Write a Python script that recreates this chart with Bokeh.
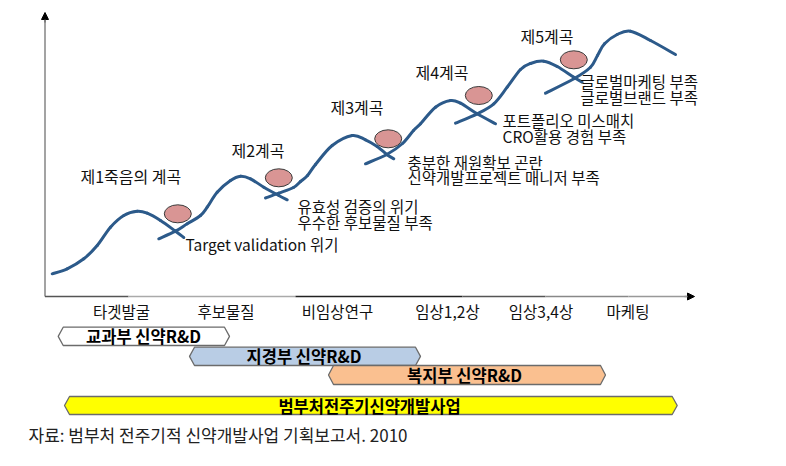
from bokeh.plotting import figure
from bokeh.models import Range1d, Arrow, NormalHead
from bokeh.core.properties import value
from bokeh.embed import file_html
from bokeh.resources import INLINE

FONT = "Noto Sans CJK KR"

# ---- curve (valleys of death) ----
wave1_x = [51.7, 66.7, 83.3, 96.7, 110, 123.3, 136.7, 146.7, 160, 175, 183.3]
wave1_y = [273.3, 268.3, 258.3, 245, 226.7, 215, 210.7, 212.7, 220, 230.7, 237]
wave2_x = [158.3, 175, 186.7, 200, 206.7, 216.7, 230, 240, 250, 263.3, 278.3, 286.7]
wave2_y = [238.3, 230.7, 223.3, 215, 206.7, 191.7, 180, 175.7, 178.3, 186.7, 195, 199.3]
wave3_x = [265, 278.3, 293, 300, 307, 315, 331.7, 351.7, 365, 376.7, 386.7, 393.3]
wave3_y = [197.5, 192.7, 187, 181, 175, 164, 145, 135, 139.3, 146, 154.3, 158.3]
wave4_x = [365, 386.7, 402, 413, 420, 435, 450, 460, 476.7, 495]
wave4_y = [163.3, 153.8, 143, 130, 123.3, 106.7, 100, 102.7, 113.3, 123.3]
wave5_x = [455, 476.7, 493.3, 506.7, 520, 530, 543.3, 556.7, 573.3, 581.7]
wave5_y = [122.7, 113.3, 103.3, 86.7, 69, 63, 60.7, 66, 76.7, 81.7]
wave6_x = [545, 573.3, 590, 597, 604, 616.7, 630, 650, 675]
wave6_y = [92.7, 78.3, 66.7, 55, 43.3, 34, 30.7, 40, 54]
waves = [(wave1_x, wave1_y), (wave2_x, wave2_y), (wave3_x, wave3_y),
         (wave4_x, wave4_y), (wave5_x, wave5_y), (wave6_x, wave6_y)]

# balls at each valley
ball_x = [177.3, 278.3, 387.7, 478.3, 573.3]
ball_y = [213.3, 177.3, 138.3, 95, 59.3]

# valley titles
valley_labels = ["제1죽음의 계곡", "제2계곡", "제3계곡", "제4계곡", "제5계곡"]
valley_x = [80, 231, 330, 415, 520]
valley_y = [175, 149, 106, 71, 35]

# crisis notes
note_labels = ["Target validation 위기",
               "유효성 검증의 위기", "우수한 후보물질 부족",
               "충분한 재원확보 곤란", "신약개발프로젝트 매니저 부족",
               "포트폴리오 미스매치", "CRO활용 경험 부족",
               "글로벌마케팅 부족", "글로벌브랜드 부족"]
note_x = [185, 297, 297, 407, 407, 502, 502, 580, 580]
note_y = [243.5, 205.5, 221, 161, 176.5, 119, 135, 80, 96]

# stages on the x axis
stage_labels = ["타겟발굴", "후보물질", "비임상연구", "임상1,2상", "임상3,4상", "마케팅"]
stage_x = [121, 225.5, 337, 447, 540.5, 627.5]
stage_y = 310

# programme bars (double-headed arrows)
bar_labels = ["교과부 신약R&D", "지경부 신약R&D", "복지부 신약R&D", "범부처전주기신약개발사업"]
bar_start = [57.7, 189, 328, 64]
bar_end = [229, 420, 605, 676.7]
bar_top = [326.7, 346.7, 365, 396]
bar_bottom = [345, 365, 384, 414]
bar_colors = ["#FFFFFF", "#B9CDE5", "#FAC090", "#FFFF00"]
bar_text_x = [143, 303.5, 464, 369]

source_text = "자료: 범부처 전주기적 신약개발사업 기획보고서. 2010"

# ---------------------------------------------------------------
W, H = 780, 458
p = figure(width=W, height=H, output_backend="svg", toolbar_location=None,
           x_range=Range1d(0, W), y_range=Range1d(H, 0),
           min_border=0, outline_line_color=None)
p.axis.visible = False
p.grid.visible = False
p.background_fill_color = "white"
p.border_fill_color = "white"

# axes
p.segment(x0=[44.5], y0=[296], x1=[44.5], y1=[18], line_color="#666666", line_width=1.2)
p.add_layout(Arrow(end=NormalHead(size=7, fill_color="black", line_color="black"),
                   x_start=44.5, y_start=22, x_end=44.5, y_end=12,
                   line_color="#666666", line_width=1.2))
ax_x0 = [44.5, 128, 295, 462, 545, 628]
ax_x1 = [128, 295, 462, 545, 628, 688]
ax_col = ["#555555", "#aaaaaa", "#222222", "#555555", "#888888", "#999999"]
p.segment(x0=ax_x0, y0=[296] * 6, x1=ax_x1, y1=[296] * 6, line_color=ax_col, line_width=1.3)
p.add_layout(Arrow(end=NormalHead(size=7, fill_color="black", line_color="black"),
                   x_start=684, y_start=296, x_end=694, y_end=296,
                   line_color="#999999", line_width=1.3))

# smooth curves with bezier pieces through the read points
bx0, by0, bx1, by1, bcx0, bcy0, bcx1, bcy1 = ([] for _ in range(8))
for xs, ys in waves:
    n = len(xs)
    for i in range(n - 1):
        im = max(i - 1, 0)
        ip2 = min(i + 2, n - 1)
        bx0.append(xs[i]); by0.append(ys[i])
        bx1.append(xs[i + 1]); by1.append(ys[i + 1])
        bcx0.append(xs[i] + (xs[i + 1] - xs[im]) / 6)
        bcy0.append(ys[i] + (ys[i + 1] - ys[im]) / 6)
        bcx1.append(xs[i + 1] - (xs[ip2] - xs[i]) / 6)
        bcy1.append(ys[i + 1] - (ys[ip2] - ys[i]) / 6)
p.bezier(x0=bx0, y0=by0, x1=bx1, y1=by1, cx0=bcx0, cy0=bcy0, cx1=bcx1, cy1=bcy1,
         line_color="#2C5A8A", line_width=3, line_cap="round")

p.ellipse(x=ball_x, y=ball_y, width=27, height=18, fill_color="#D99594",
          line_color="#3a3a3a", line_width=1)

p.text(x=valley_x, y=valley_y, text=valley_labels, text_font=value(FONT),
       text_font_size="16px", text_baseline="middle", text_align="left", text_color="#111111")
p.text(x=note_x, y=note_y, text=note_labels, text_font=value(FONT),
       text_font_size="15.5px", text_baseline="middle", text_align="left", text_color="#111111")
p.text(x=stage_x, y=[stage_y] * len(stage_x), text=stage_labels, text_font=value(FONT),
       text_font_size="15.5px", text_baseline="middle", text_align="center", text_color="#111111")

# bars
head = 5
xs_b, ys_b, yc = [], [], []
for s, e, t, b in zip(bar_start, bar_end, bar_top, bar_bottom):
    m = (t + b) / 2
    xs_b.append([s, s + head, e - head, e, e - head, s + head])
    ys_b.append([m, t, t, m, b, b])
    yc.append(m)
p.patches(xs=xs_b, ys=ys_b, fill_color=bar_colors, line_color="#6b6b6b", line_width=1.3)
p.text(x=bar_text_x, y=yc, text=bar_labels, text_font=value(FONT), text_font_style="bold",
       text_font_size="16.5px", text_baseline="middle", text_align="center", text_color="#000000")

p.text(x=[28], y=[434], text=[source_text], text_font=value(FONT),
       text_font_size="17px", text_baseline="middle", text_align="left", text_color="#222222")

open("out.html", "w").write(file_html(p, INLINE))
